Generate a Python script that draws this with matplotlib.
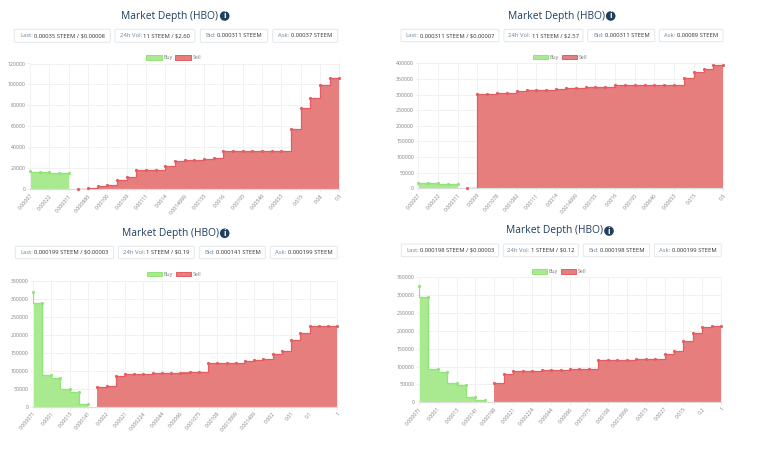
#!/usr/bin/env python3
"""Four market depth charts for HBO, drawn on one 768x462 canvas."""
import matplotlib
matplotlib.use("Agg")
import matplotlib.pyplot as plt
import numpy as np
from matplotlib.patches import FancyBboxPatch, Circle, Patch

plt.rcParams["font.family"] = ["Open Sans", "DejaVu Sans"]

W, H = 768, 462
NAVY = "#1f3f5f"
BUY_FILL = "#a9e98f"
BUY_LINE = "#8fe575"
SELL_FILL = "#e67e7e"
SELL_LINE = "#e35d63"
GRID = "#f1f1f1"
ZERO = "#dcdcdc"
TICK = "#808080"

# top left
buy_1 = [17500, 16200, 16200, 15500, 15500]
sell_1 = [300, 1000, 3000, 3600, 8800, 11500, 18000, 18300, 18300, 22000, 27000,
          27500, 28000, 29000, 30000, 36000, 36200, 36300, 36400, 36500, 36700,
          36800, 57000, 77000, 87000, 99000, 106000, 106000]
labels_1 = ["0.00007", "0.00022", "0.000311", "0.000886", "0.00106", "0.00109",
            "0.00111", "0.0014", "0.0014999", "0.00155", "0.0016", "0.00195",
            "0.00546", "0.00653", "0.015", "0.08", "0.5"]
ticks_1 = list(range(0, 33, 2))
yticks_1 = [0, 20000, 40000, 60000, 80000, 100000, 120000]
stats_1 = [("Last:", "0.00035 STEEM / $0.00008"), ("24h Vol:", "11 STEEM / $2.60"),
           ("Bid:", "0.000311 STEEM"), ("Ask:", "0.00037 STEEM")]

# top right
buy_2 = [17000, 15500, 15500, 15000, 15000]
sell_2 = [500, 301000, 302000, 305000, 306000, 310000, 313000, 313500, 313500,
          317000, 322000, 322500, 323000, 323500, 324000, 331000, 331300, 331500,
          331600, 331700, 331800, 332000, 352000, 372000, 382000, 393000, 394000]
labels_2 = ["0.00007", "0.00022", "0.000311", "0.0009", "0.001078", "0.001082",
            "0.00111", "0.0014", "0.0014999", "0.00155", "0.0016", "0.00195",
            "0.00646", "0.00653", "0.015", "0.5"]
ticks_2 = list(range(0, 29, 2)) + [31]
yticks_2 = [0, 50000, 100000, 150000, 200000, 250000, 300000, 350000, 400000]
stats_2 = [("Last:", "0.000311 STEEM / $0.00007"), ("24h Vol:", "11 STEEM / $2.57"),
           ("Bid:", "0.000311 STEEM"), ("Ask:", "0.00089 STEEM")]

# bottom left
buy_3 = [319000, 288000, 87000, 79000, 49000, 42000, 8000]
sell_3 = [55000, 58000, 84000, 90000, 90500, 91000, 93000, 93500, 94000, 95000,
          96000, 96500, 121000, 122000, 122000, 122500, 126000, 131000, 132000,
          146000, 154000, 184000, 204000, 224000, 224500, 225000, 225000]
labels_3 = ["0.000071", "0.0001", "0.00013", "0.000141", "0.0002", "0.00021",
            "0.000224", "0.00044", "0.00066", "0.001075", "0.00108", "0.0013999",
            "0.001499", "0.002", "0.01", "0.1", "1"]
ticks_3 = list(range(0, 31, 2)) + [33]
yticks_3 = [0, 50000, 100000, 150000, 200000, 250000, 300000, 350000]
stats_3 = [("Last:", "0.000199 STEEM / $0.00003"), ("24h Vol:", "1 STEEM / $0.19"),
           ("Bid:", "0.000141 STEEM"), ("Ask:", "0.000199 STEEM")]

# bottom right
buy_4 = [325000, 294000, 93000, 85000, 55000, 48000, 15000, 6000]
sell_4 = [55000, 80000, 87000, 88000, 89000, 90000, 90500, 91000, 92500, 93500,
          94000, 118000, 119000, 119500, 119500, 120000, 120500, 121000, 135000,
          143000, 172000, 193000, 212000, 213000, 214000]
labels_4 = ["0.000071", "0.0001", "0.00013", "0.000141", "0.000198", "0.00021",
            "0.000224", "0.00044", "0.00066", "0.001075", "0.00108", "0.0013999",
            "0.0015", "0.0027", "0.015", "0.2", "1"]
ticks_4 = list(range(0, 33, 2))
yticks_4 = yticks_3
stats_4 = [("Last:", "0.000198 STEEM / $0.00003"), ("24h Vol:", "1 STEEM / $0.12"),
           ("Bid:", "0.000198 STEEM"), ("Ask:", "0.000199 STEEM")]

fig = plt.figure(figsize=(W / 100, H / 100), dpi=100)
fig.patch.set_facecolor("white")
page = fig.add_axes([0, 0, 1, 1])
page.set_xlim(0, W)
page.set_ylim(H, 0)
page.axis("off")
renderer = fig.canvas.get_renderer()


def stat_box(x0, x1, y0, y1, name, value):
    page.add_patch(FancyBboxPatch((x0, y0), x1 - x0, y1 - y0,
                                  boxstyle="round,pad=0,rounding_size=1.2",
                                  facecolor="white", edgecolor="#e4e7ea", linewidth=0.7))
    # two colours in one line, so measure the pieces and centre them together
    a = page.text(0, (y0 + y1) / 2, name, fontsize=4.25, color="#6f8499", va="center")
    b = page.text(0, (y0 + y1) / 2, value, fontsize=4.25, color="#333333", va="center")
    wa = a.get_window_extent(renderer).width
    wb = b.get_window_extent(renderer).width
    left = (x0 + x1) / 2 - (wa + 1.2 + wb) / 2
    a.set_x(left)
    b.set_x(left + wa + 1.2)


def header(cx, icon_x, y, boxes, box_y, stats):
    page.text(cx, y, "Market Depth (HBO)", fontsize=7.4, color=NAVY,
              ha="center", va="center")
    page.add_patch(Circle((icon_x, y), 4.8, facecolor=NAVY, edgecolor="none"))
    page.text(icon_x, y, "i", fontsize=6, color="white", fontweight="bold",
              ha="center", va="center")
    for (x0, x1), (name, value) in zip(boxes, stats):
        stat_box(x0, x1, box_y[0], box_y[1], name, value)


def depth_chart(rect, legend_xy, buy, sell, ticks, labels, yticks):
    x0, x1, y0, y1 = rect
    ax = fig.add_axes([x0 / W, 1 - y1 / H, (x1 - x0) / W, (y1 - y0) / H])
    xb = np.arange(len(buy))
    xs = np.arange(len(sell)) + len(buy)

    ax.fill_between(xb, buy, 0, step="pre", color=BUY_FILL, linewidth=0, zorder=2)
    ax.plot(xb, buy, drawstyle="steps-pre", color=BUY_LINE, linewidth=0.9, zorder=3)
    ax.plot(xb, buy, "o", color=BUY_LINE, markersize=1.3, zorder=4, clip_on=False)
    ax.fill_between(xs, sell, 0, step="post", color=SELL_FILL, linewidth=0, zorder=2)
    ax.plot(xs, sell, drawstyle="steps-post", color=SELL_LINE, linewidth=0.9, zorder=3)
    ax.plot(xs, sell, "o", color=SELL_LINE, markersize=1.3, zorder=4, clip_on=False)

    ax.set_xlim(0, len(buy) + len(sell) - 1)
    ax.set_ylim(0, yticks[-1])
    ax.set_xticks(ticks)
    ax.set_xticklabels(labels, rotation=50, ha="right", rotation_mode="anchor")
    ax.set_yticks(yticks)
    ax.set_yticklabels([str(v) for v in yticks])
    ax.grid(True, color=GRID, linewidth=0.7, zorder=0)
    ax.set_axisbelow(True)
    ax.tick_params(labelsize=3.7, labelcolor=TICK, color=GRID, length=2, width=0.7, pad=1)
    for s in ("top", "right", "left"):
        ax.spines[s].set_color(GRID)
        ax.spines[s].set_linewidth(0.7)
    ax.spines["bottom"].set_color(ZERO)
    ax.spines["bottom"].set_linewidth(0.9)

    handles = [Patch(facecolor=BUY_FILL, edgecolor=BUY_LINE, linewidth=0.7, label="Buy"),
               Patch(facecolor=SELL_FILL, edgecolor=SELL_LINE, linewidth=0.7, label="Sell")]
    ax.legend(handles=handles, ncol=2, frameon=False, fontsize=3.8, labelcolor="#777777",
              loc="center", bbox_to_anchor=legend_xy, bbox_transform=page.transData,
              handlelength=2.9, handleheight=1.0, handletextpad=0.35, columnspacing=0.5,
              borderpad=0, borderaxespad=0)


header(169.5, 224.7, 16, [(14.3, 110.3), (115, 195), (200.3, 267.7), (272.7, 337.7)],
       (29.3, 42.3), stats_1)
header(556, 610.7, 16, [(401, 499), (504, 583), (587.7, 654.7), (659.3, 723)],
       (29.3, 41.7), stats_2)
header(170, 224.7, 233.3, [(15.3, 113.7), (118.3, 194.3), (199.3, 265.3), (270.3, 337.3)],
       (246.3, 258.7), stats_3)
header(555, 609, 231, [(401.3, 498.7), (503.3, 578.3), (583.3, 649.7), (654.3, 721.3)],
       (244, 256.7), stats_4)

depth_chart((30, 339.4, 63.5, 189), (173.8, 57.7), buy_1, sell_1, ticks_1, labels_1, yticks_1)
depth_chart((418.3, 723.3, 63.3, 188.3), (560, 57.3), buy_2, sell_2, ticks_2, labels_2, yticks_2)
depth_chart((32.7, 337.3, 280.7, 406.7), (174, 274.3), buy_3, sell_3, ticks_3, labels_3, yticks_3)
depth_chart((418.7, 721.3, 277.3, 402.3), (559, 271.7), buy_4, sell_4, ticks_4, labels_4, yticks_4)

fig.savefig("out.png", dpi=100, facecolor="white")
